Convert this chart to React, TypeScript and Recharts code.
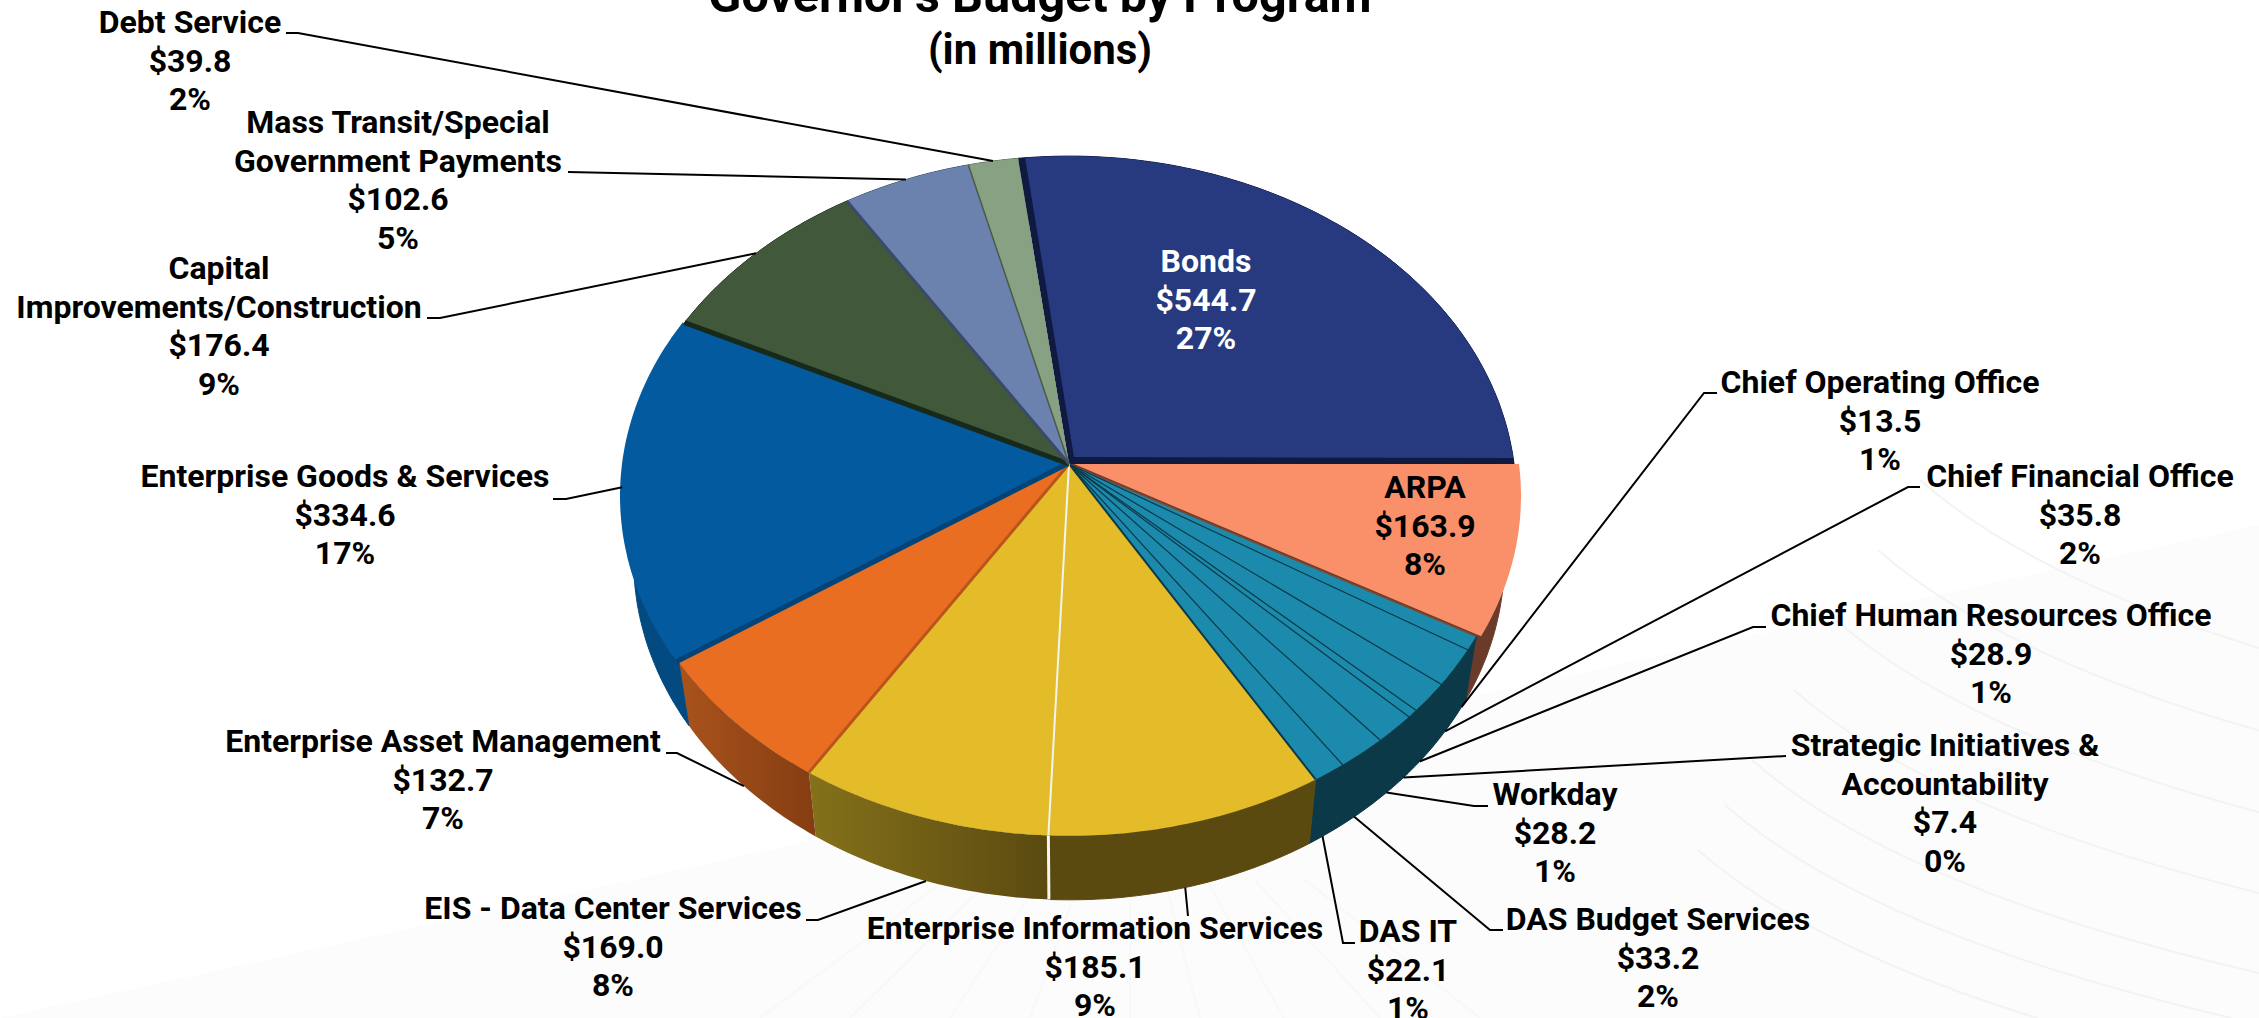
import { Pie, PieChart } from "recharts";

// Governor's budget by program, in millions, clockwise from Bonds
const PROGRAMS = [
  "Bonds",
  "ARPA",
  "Chief Operating Office",
  "Chief Financial Office",
  "Chief Human Resources Office",
  "Strategic Initiatives &|Accountability",
  "Workday",
  "DAS Budget Services",
  "DAS IT",
  "Enterprise Information Services",
  "EIS - Data Center Services",
  "Enterprise Asset Management",
  "Enterprise Goods & Services",
  "Capital|Improvements/Construction",
  "Mass Transit/Special|Government Payments",
  "Debt Service",
];
const AMOUNTS = [544.7, 163.9, 13.5, 35.8, 28.9, 7.4, 28.2, 33.2, 22.1, 185.1, 169.0, 132.7, 334.6, 176.4, 102.6, 39.8];
const SHARES = ["27%", "8%", "1%", "2%", "1%", "0%", "1%", "2%", "1%", "9%", "8%", "7%", "17%", "9%", "5%", "2%"];

const data = PROGRAMS.map((name, i) => ({ name, amount: AMOUNTS[i], share: SHARES[i] }));

const TOP_COLORS = [
  "#273a80", "#f9906a", "#1c8aad", "#1c8aad", "#1c8aad", "#1c8aad", "#1c8aad", "#1c8aad", "#1c8aad",
  "#e4bb28", "#e4bb28", "#e96e22", "#045a9e", "#41593a", "#6c82ae", "#88a183",
];
const WALL_COLORS = [
  "#10193f", "#6a3b2a", "#0b3948", "#0b3948", "#0b3948", "#0b3948", "#0b3948", "#0b3948", "#0b3948",
  "#5a4a10", "url(#wallYellow)", "url(#wallOrange)", "#034a80", "#16291a", "#3a4a6b", "#55684f",
];
// darker line drawn along the edge where each slice starts
const EDGE_COLORS = [
  "none", "#10193f", "#7a4a35", "#0b3948", "#0b3948", "#0b3948", "#0b3948", "#0b3948", "#0b3948",
  "#0b3948", "#f4f4f0", "#b8541c", "#034478", "#16291a", "#3a4a6b", "#4a5a48",
];
const EDGE_WIDTHS = [0, 0, 1.5, 1.2, 1.2, 1.2, 1.2, 1.2, 1.2, 2, 2, 3, 5, 5, 3, 1.5];
// how far a slice has been pulled out of the pie
const PULL_X = [0, 5, 0, 0, 0, 0, 0, 0, 0, 0, 0, 0, -2, 0, 0, 0];
const PULL_Y = [0, 0, 0, 0, 0, 0, 0, 0, 0, 0, 0, 0, 0, 0, 0, 0];
// Bonds keeps its rim but its tip sits off the pie centre, narrowed by a degree each side
const TIP_X = [5, 0, 0, 0, 0, 0, 0, 0, 0, 0, 0, 0, 0, 0, 0, 0];
const TIP_Y = [-7, 0, 0, 0, 0, 0, 0, 0, 0, 0, 0, 0, 0, 0, 0, 0];
const TRIM = [1, 0, 0, 0, 0, 0, 0, 0, 0, 0, 0, 0, 0, 0, 0, 0];

// label centre x, first baseline y
const LABEL_X = [1206, 1425, 1880, 2080, 1991, 1945, 1555, 1658, 1408, 1095, 613, 443, 345, 219, 398, 190];
const LABEL_Y = [272, 498, 393, 487, 626, 756, 805, 930, 942, 939, 919, 752, 487, 279, 133, 33];
// leader lines: end next to the text, then an elbow (null where there is no leader)
const LEADER_END = [null, null, [1717, 393], [1920, 487], [1766, 627], [1786, 756], [1488, 806], [1503, 930], [1355, 943], [1188, 916], [806, 920], [666, 753], [553, 499], [427, 318], [568, 172], [286, 33]];
const LEADER_ELBOW = [null, null, [1704, 393], [1908, 487], [1753, 627], [1786, 756], [1474, 806], [1490, 930], [1343, 943], [1188, 916], [818, 920], [677, 753], [566, 499], [440, 318], [568, 172], [298, 33]];

// faint watermark behind the chart: vertical shift of each sweep, bottom end of each ray
const SWEEP_SHIFTS = [90, 45, 0, -70, -140, -210, -280];
const FAN_ENDS = [760, 850, 950, 1030, 1130, 1200, 1284, 1380, 1480];

const WIDTH = 2259;
const HEIGHT = 1018;
const CX = 1069;
const CY = 464;
const RADIUS = 445;
const TILT = 0.757; // vertical squash of the pie disc
const PERSPECTIVE = 0.0941;
const DEPTH = 64;
const BASE_SHRINK = 0.974;
const FONT = "Roboto, sans-serif";
const LABEL_SIZE = 32;

const RAD = Math.PI / 180;

// where an angle on the disc lands on the tilted, perspective disc
function topPoint(cx: number, cy: number, r: number, angle: number) {
  const u = Math.cos(angle * RAD);
  const v = Math.sin(angle * RAD);
  const w = 1 + PERSPECTIVE * v;
  return [cx + (r * u) / w, cy - (r * TILT * v) / w];
}

function basePoint(cx: number, cy: number, r: number, angle: number) {
  const [x, y] = topPoint(cx, cy, r, angle);
  return [cx + (x - cx) * BASE_SHRINK, y + DEPTH];
}

function arc(fn: typeof topPoint, cx: number, cy: number, r: number, start: number, end: number) {
  const steps = Math.max(2, Math.ceil(Math.abs(end - start)));
  const pts: number[][] = [];
  for (let i = 0; i <= steps; i++) pts.push(fn(cx, cy, r, start + ((end - start) * i) / steps));
  return pts;
}

const toPath = (pts: number[][]) => "M" + pts.map((p) => `${p[0].toFixed(1)},${p[1].toFixed(1)}`).join("L") + "Z";

function WallShape(props: any) {
  const { cx, cy, outerRadius, startAngle, endAngle, index } = props;
  const top = arc(topPoint, cx, cy, outerRadius, startAngle, endAngle);
  const base = arc(basePoint, cx, cy, outerRadius, startAngle, endAngle);
  const fill = WALL_COLORS[index];
  const [sx, sy] = top[0];
  const [bx, by] = base[0];
  const seam = fill.startsWith("url") ? "none" : fill;
  return (
    <g>
      <path d={toPath([[cx, cy], ...top])} fill={fill} />
      <path d={toPath([...top, ...[...base].reverse()])} fill={fill} stroke={seam} strokeWidth={1} />
      {index === 10 && <line x1={sx} y1={sy} x2={bx} y2={by} stroke="#f4f4f0" strokeWidth={3} />}
    </g>
  );
}

function TopShape(props: any) {
  const { cx, cy, outerRadius, startAngle, endAngle, index } = props;
  const trim = TRIM[index];
  const pts = arc(topPoint, cx, cy, outerRadius, startAngle - trim, endAngle + trim);
  const tipX = cx + TIP_X[index];
  const tipY = cy + TIP_Y[index];
  const [sx, sy] = pts[0];
  return (
    <g transform={`translate(${PULL_X[index]},${PULL_Y[index]})`}>
      <path d={toPath([[tipX, tipY], ...pts])} fill={TOP_COLORS[index]} />
      {EDGE_WIDTHS[index] > 0 && (
        <line x1={tipX} y1={tipY} x2={sx} y2={sy} stroke={EDGE_COLORS[index]} strokeWidth={EDGE_WIDTHS[index]} />
      )}
    </g>
  );
}

function SliceLabel(props: any) {
  const { index } = props;
  const lines = [...PROGRAMS[index].split("|"), `$${AMOUNTS[index].toFixed(1)}`, SHARES[index]];
  return (
    <text
      x={LABEL_X[index]}
      y={LABEL_Y[index]}
      textAnchor="middle"
      fontFamily={FONT}
      fontWeight={700}
      fontSize={LABEL_SIZE}
      fill={index === 0 ? "#ffffff" : "#000000"}
    >
      {lines.map((t, i) => (
        <tspan key={i} x={LABEL_X[index]} dy={i === 0 ? 0 : 38.5}>
          {t}
        </tspan>
      ))}
    </text>
  );
}

function Leader(props: any) {
  const { index, cx, cy, outerRadius, midAngle } = props;
  const end = LEADER_END[index];
  const elbow = LEADER_ELBOW[index];
  if (!end || !elbow) return <g />;
  // slices along the front attach to the bottom rim, those at the back to the top rim
  const front = Math.sin(midAngle * RAD) < -0.3;
  const [ax, ay] = (front ? basePoint : topPoint)(cx, cy, outerRadius, midAngle);
  return (
    <polyline
      points={`${end[0]},${end[1]} ${elbow[0]},${elbow[1]} ${ax},${ay}`}
      fill="none"
      stroke="#000000"
      strokeWidth={2}
    />
  );
}

function Backdrop() {
  return (
    <svg width={WIDTH} height={HEIGHT} style={{ position: "absolute", left: 0, top: 0 }}>
      <polygon points="0,1018 2259,525 2259,1018" fill="#fcfcfc" />
      {SWEEP_SHIFTS.map((d) => (
        <path
          key={d}
          d={`M${1752 - d * 0.6},${760 + d} Q${1900 - d * 0.6},${890 + d} ${2259 - d * 0.6},${973 + d}`}
          fill="none"
          stroke="#f3f3f3"
          strokeWidth={2}
        />
      ))}
      {FAN_ENDS.map((x) => (
        <line key={x} x1={1130 + (x - 1130) * 0.5} y1={880} x2={x} y2={1018} stroke="#f8f8f8" strokeWidth={2} />
      ))}
    </svg>
  );
}

export default function App() {
  return (
    <div style={{ position: "absolute", left: 0, top: 0, width: WIDTH, height: HEIGHT, overflow: "hidden", background: "#ffffff" }}>
      <Backdrop />
      <div style={{ position: "absolute", left: 0, top: 0 }}>
        <PieChart width={WIDTH} height={HEIGHT} margin={{ top: 0, right: 0, bottom: 0, left: 0 }}>
          <defs>
            <linearGradient id="wallYellow" x1="0" y1="0" x2="1" y2="0">
              <stop offset="0%" stopColor="#85711a" />
              <stop offset="100%" stopColor="#5a4a10" />
            </linearGradient>
            <linearGradient id="wallOrange" x1="0" y1="0" x2="1" y2="0">
              <stop offset="0%" stopColor="#aa531c" />
              <stop offset="100%" stopColor="#843d12" />
            </linearGradient>
          </defs>
          <text x={1040} y={12} textAnchor="middle" fontFamily={FONT} fontWeight={700} fontSize={48.5} fill="#000000">
            Governor's Budget by Program
          </text>
          <text x={1040} y={64} textAnchor="middle" fontFamily={FONT} fontWeight={700} fontSize={42} fill="#000000">
            (in millions)
          </text>
          <Pie
            data={data}
            dataKey="amount"
            nameKey="name"
            cx={CX}
            cy={CY}
            innerRadius={0}
            outerRadius={RADIUS}
            startAngle={97.2}
            endAngle={-262.8}
            paddingAngle={0}
            stroke="none"
            isAnimationActive={false}
            shape={WallShape}
            legendType="none"
          />
          <Pie
            data={data}
            dataKey="amount"
            nameKey="name"
            cx={CX}
            cy={CY}
            innerRadius={0}
            outerRadius={RADIUS}
            startAngle={97.2}
            endAngle={-262.8}
            paddingAngle={0}
            stroke="none"
            isAnimationActive={false}
            shape={TopShape}
            label={SliceLabel}
            labelLine={Leader}
            legendType="none"
          />
        </PieChart>
      </div>
    </div>
  );
}
